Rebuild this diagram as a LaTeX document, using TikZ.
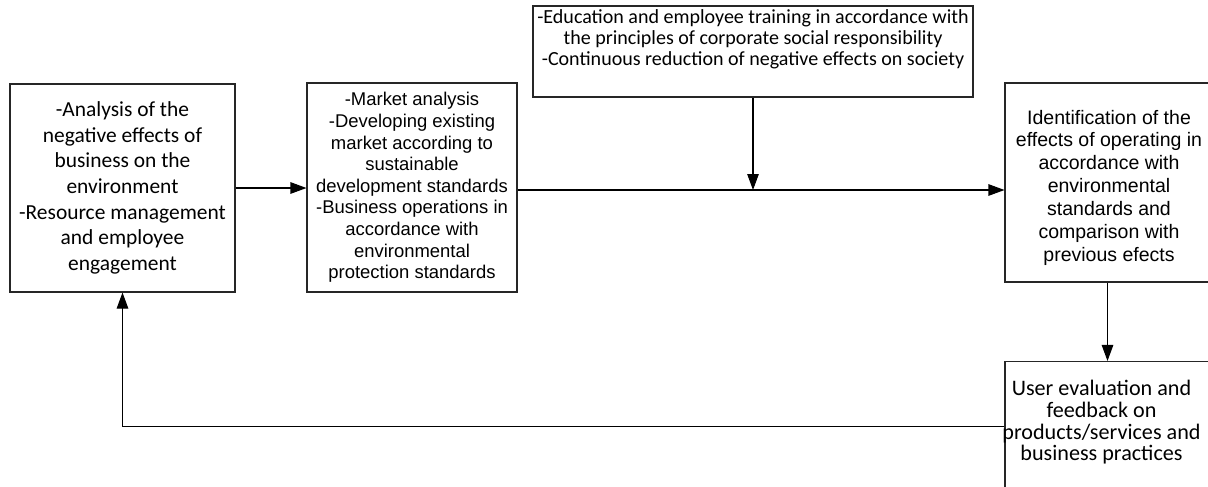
\documentclass[tikz,border=0pt]{standalone}
\usepackage{fontspec}
\setmainfont{Carlito}
\newfontfamily\arialf{Liberation Sans}
\usetikzlibrary{arrows.meta}

\begin{document}
\begin{tikzpicture}[scale=1,
	box/.style={draw=black!85, line width=0.6pt, align=center, inner sep=0pt},
	arr/.style={line width=0.6pt, -{Triangle[length=3.2mm,width=2.3mm]}}]
	\clip (0,0) rectangle (24.16,-9.72);
	\node (ana) at (2.45,-3.76) [box, minimum width=4.5cm, minimum height=4.16cm, font=\fontsize{12.2}{14.6}\selectfont]
		{-Analysis of the\\ negative effects of\\ business on the\\ environment\\ -Resource management\\ and employee\\ engagement};
	\node (mkt) at (8.24,-3.75) [box, minimum width=4.2cm, minimum height=4.18cm, font=\arialf\fontsize{10.5}{12.3}\selectfont]
		{-Market analysis\\ -Developing existing\\ market according to\\ sustainable\\ development standards\\ -Business operations in\\ accordance with\\ environmental\\ protection standards};
	\node (edu) at (15.06,-1.03) [box, minimum width=8.8cm, minimum height=1.82cm,
		label={[align=center, yshift=0.25cm, font=\fontsize{11.4}{12}\selectfont]center:{-Education and employee training in accordance with\\ the principles of corporate social responsibility\\ -Continuous reduction of negative effects on society}}] {};
	\node (idt) at (22.15,-3.65) [box, minimum width=4.1cm, minimum height=3.98cm,
		label={[align=center, xshift=0.03cm, yshift=-0.1cm, font=\arialf\fontsize{11.1}{13}\selectfont]center:{Identification of the\\ effects of operating in\\ accordance with\\ environmental\\ standards and\\ comparison with\\ previous efects}}] {};
	\node (usr) at (22.15,-8.53) [box, minimum width=4.1cm, minimum height=2.6cm,
		label={[align=center, xshift=-0.12cm, yshift=0.08cm, font=\fontsize{12.6}{12.3}\selectfont]center:{User evaluation and\\ feedback on\\ products/services and\\ business practices}}] {};
	\coordinate (join) at (edu.south |- 0,-3.8);
	\draw [arr] (ana.east) -- (mkt.west |- ana.east);
	\draw [line width=0.6pt] (mkt.east |- join) -- (join);
	\draw [arr] (join) -- (idt.west |- join);
	\draw [arr] (edu.south) -- (join);
	\draw [arr] (idt.south) -- (usr.north);
	\draw [arr] (usr.west) -| (ana.south);
\end{tikzpicture}
\end{document}
